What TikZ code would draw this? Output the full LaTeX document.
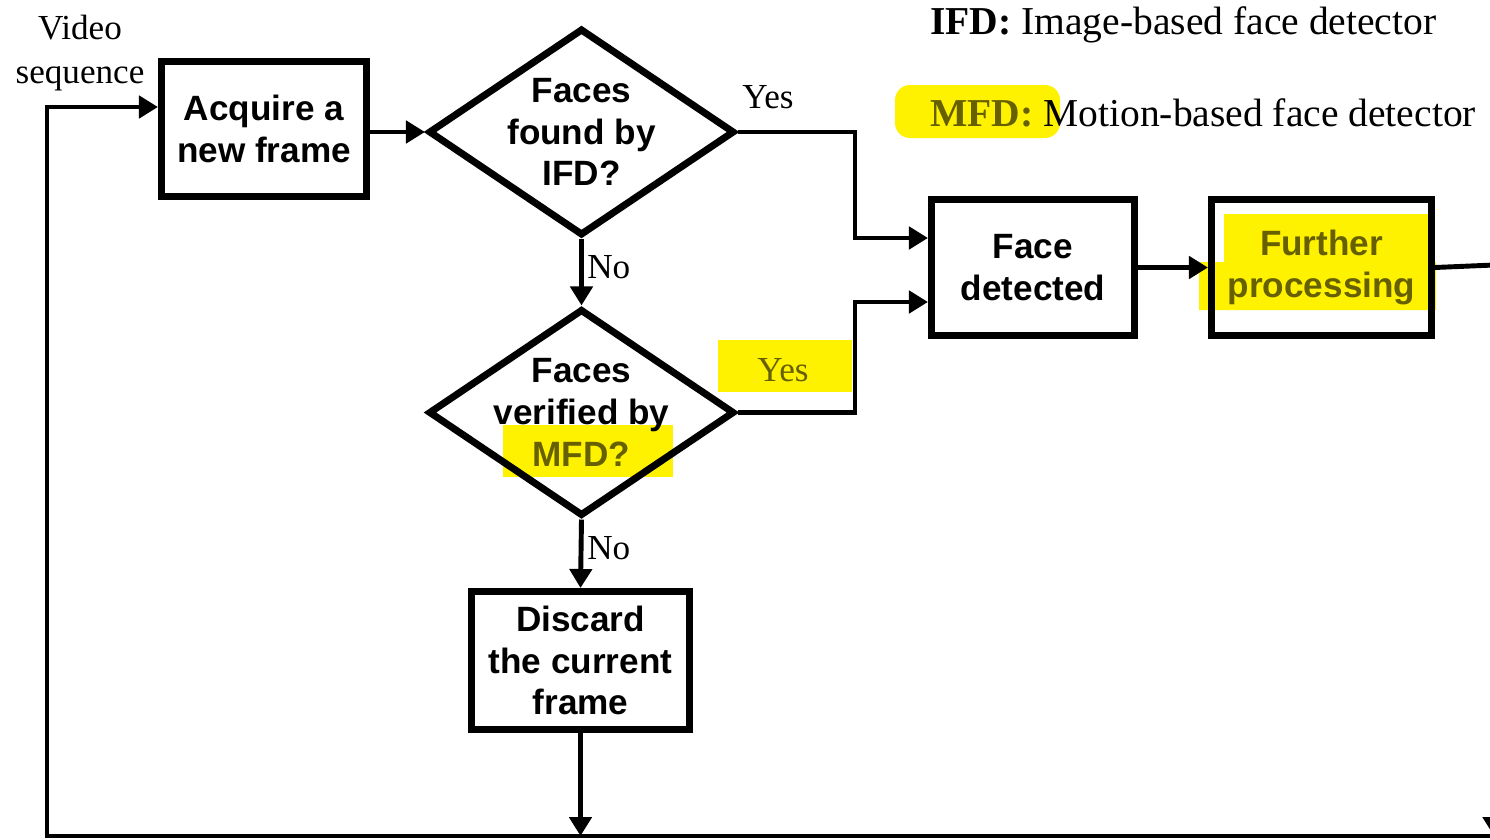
\documentclass[tikz,border=0pt]{standalone}
\usepackage{fontspec}
\setmainfont{Liberation Serif}
\setsansfont{Liberation Sans}
\usetikzlibrary{arrows.meta,shapes.geometric}
\definecolor{hltext}{gray}{0.4}

\begin{document}
\begin{tikzpicture}[scale=0.2]
\tikzstyle{every node}+=[inner sep=0pt]
\tikzstyle{box}=[draw=black, line width=4pt, align=center, font=\sffamily\bfseries\fontsize{20}{23.8}\selectfont]
\tikzstyle{decision}=[box, diamond, aspect=1.5, inner sep=-0.4cm, minimum width=6.12cm, minimum height=4.14cm]
\tikzstyle{line}=[draw=black, line width=2.8pt, -{Triangle[length=0.38cm,width=0.44cm]}]
\tikzstyle{lbl}=[font=\fontsize{20}{25}\selectfont, align=center]
\tikzstyle{legend}=[font=\fontsize{22.5}{27}\selectfont, anchor=west]
\tikzstyle{hl}=[fill=yellow]
\useasboundingbox (0,0) rectangle (149,-83.9);
\node[box, minimum width=4.1cm, minimum height=2.7cm] (acq) at (26.4,-12.9) {Acquire a\\new frame};
\node[decision] (ifd) at (58.15,-13.2) {Faces\\found by\\IFD?};
\node[decision] (mfd) at (58.15,-41.25) {Faces\\verified by\\\textcolor{hltext}{MFD?}};
\node[box, minimum width=4.06cm, minimum height=2.72cm] (fd) at (103.3,-26.75) {Face\\detected};
\node[box, minimum width=4.4cm, minimum height=2.72cm, text=hltext] (fp) at (132.15,-26.75) {Further\\processing};
\node[box, minimum width=4.36cm, minimum height=2.76cm] (disc) at (58.05,-66.05) {Discard\\the current\\frame};
\node[lbl] (video) at (8.0,-5.3) {Video\\sequence};
\node[lbl] (yes1) at (76.8,-9.7) {Yes};
\node[lbl, anchor=west] (no1) at (58.7,-26.7) {No};
\node[lbl, text=hltext] (yes2) at (78.3,-37.0) {Yes};
\node[lbl, anchor=west] (no2) at (58.7,-54.8) {No};
\node[legend] (ifdkey) at (93.0,-2.5) {\textbf{IFD:} Image-based face detector};
\node[legend] (mfdkey) at (93.0,-11.3) {\textbf{\textcolor{hltext}{MFD:}} Motion-based face detector};
\coordinate (bendx) at (85.5,0);
\coordinate (fdin1) at (0,-23.8);
\coordinate (fdin2) at (0,-30.2);
\coordinate (rturn) at (149.4,-26.5);
\coordinate (rbot) at (149.4,-83.6);
\coordinate (lbot) at (4.7,-83.6);
\coordinate (ltop) at (4.7,-10.7);
\draw[line] (acq.east |- ifd.west) -- (ifd.west);
\draw[line] (ifd.east) -- (ifd.east -| bendx) |- (fd.west |- fdin1);
\draw[line] (ifd.south) -- (mfd.north);
\draw[line] (mfd.east) -- (mfd.east -| bendx) |- (fd.west |- fdin2);
\draw[line] (mfd.south) -- (disc.north);
\draw[line] (fd.east) -- (fp.west);
\draw[line] (fp.east) -- (rturn) -- (rbot);
\draw[line] (disc.south) -- (disc.south |- lbot);
\draw[line] (rbot) -- (lbot) -- (ltop) -- (ltop -| acq.west);
% highlighter marks
\begin{scope}[blend mode=multiply]
\fill[hl, rounded corners=0.3cm] (89.5,-8.5) rectangle (106,-13.8);
\fill[hl] (122.4,-21.4) -- (142.8,-21.4) -- (142.8,-26.2) -- (143.6,-26.2) -- (143.6,-31.0) -- (119.9,-31.0) -- (119.9,-26.2) -- (122.4,-26.2) -- cycle;
\fill[hl] (71.8,-34.0) rectangle (85.2,-39.2);
\fill[hl] (50.3,-42.5) rectangle (67.3,-47.7);
\end{scope}
\end{tikzpicture}
\end{document}
